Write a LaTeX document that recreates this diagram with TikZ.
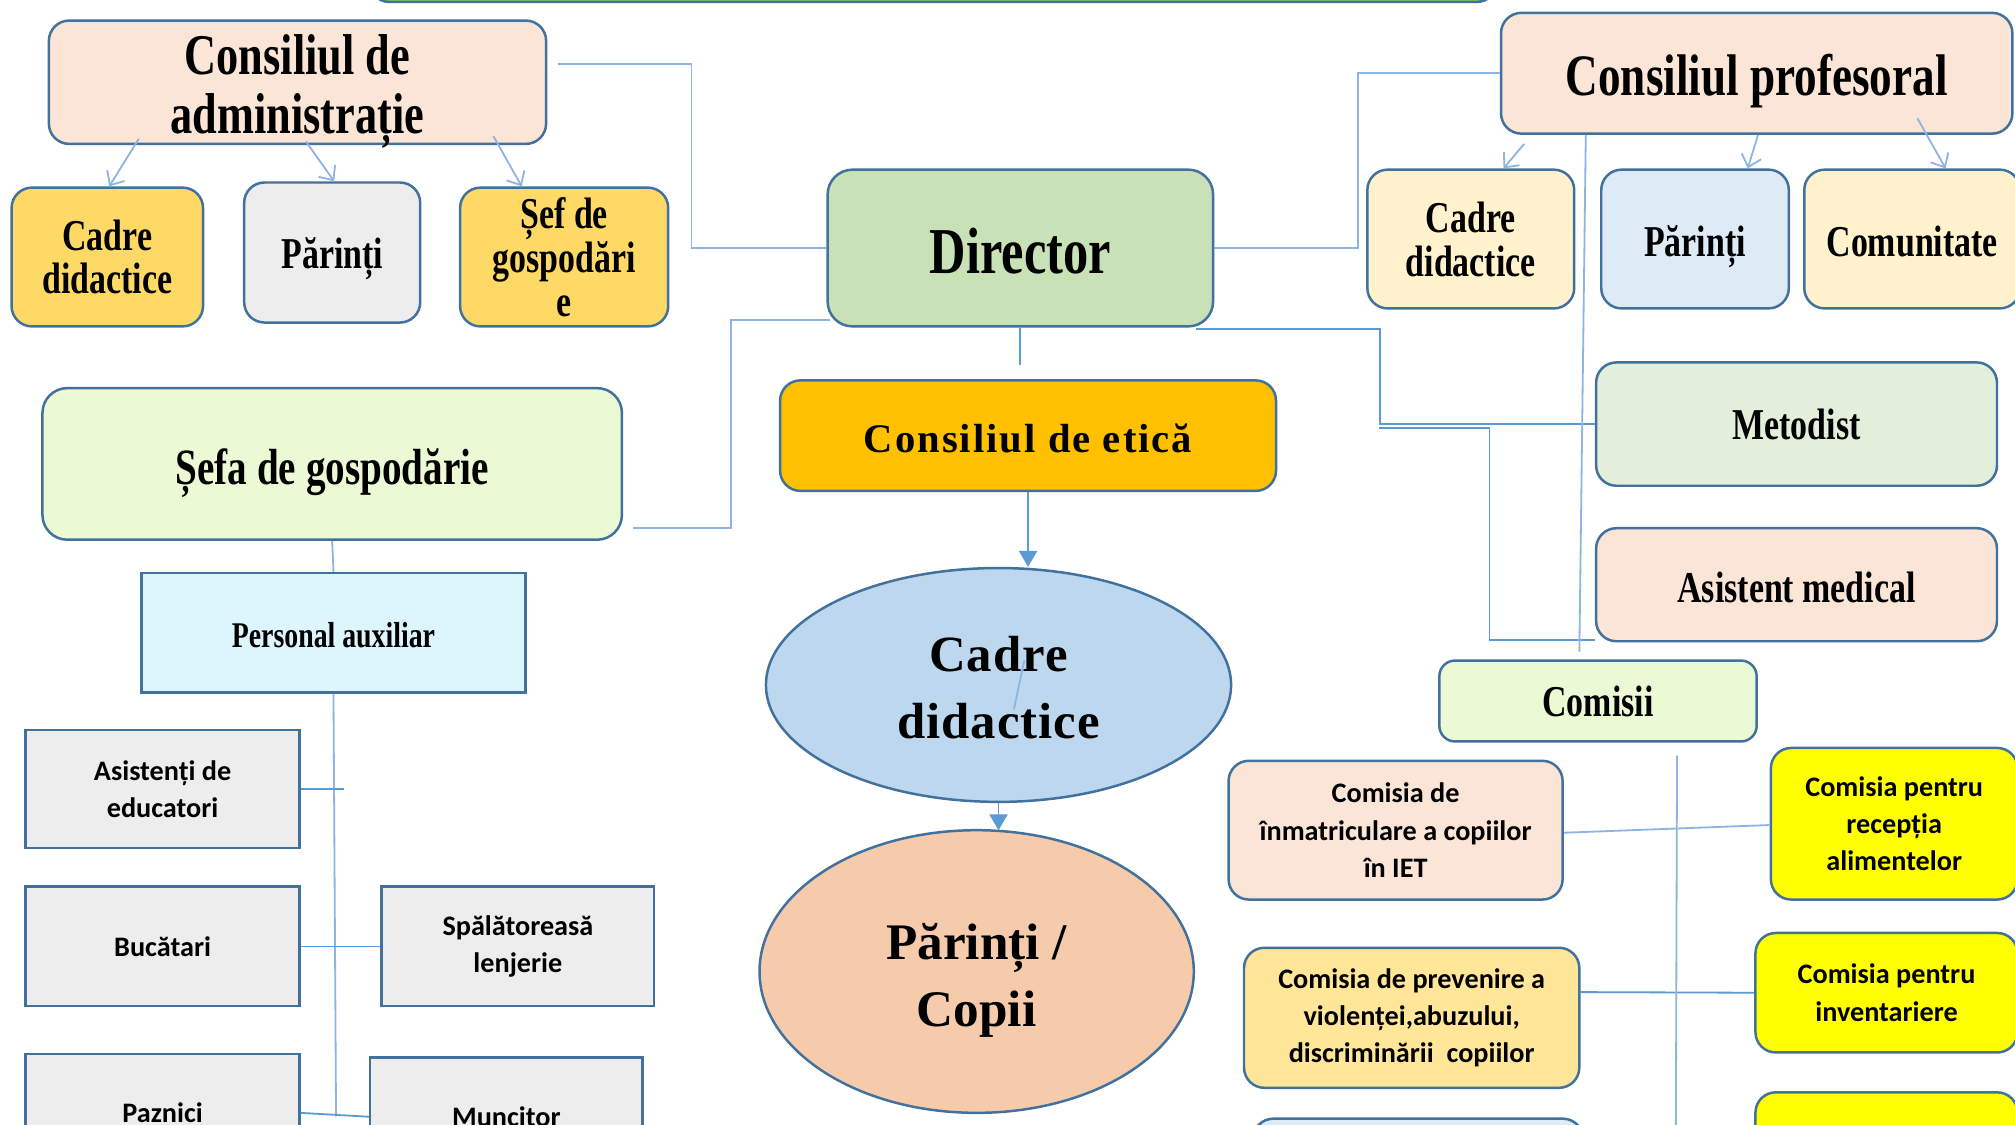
\documentclass[tikz,border=0pt]{standalone}
\usepackage{fontspec}
\usetikzlibrary{arrows.meta,shapes.geometric}
\newfontfamily\cserif[FakeStretch=0.77]{Liberation Serif}
\newfontfamily\nserif{Liberation Serif}
\newfontfamily\etfont[LetterSpace=5]{Liberation Serif}
\newfontfamily\elfont[LetterSpace=2]{Liberation Serif}
\newfontfamily\csans{Carlito}
\newcommand\fS[2]{\fontsize{#1}{#2}\selectfont}
\newcommand\lowr[2]{\raisebox{-#1}[\height][\depth]{#2}}
\newcommand\lowtwo[3]{\lowr{#1}{\begin{tabular}{@{}c@{}}#2\\#3\end{tabular}}}
\definecolor{bord}{HTML}{41719C}
\definecolor{lnk}{HTML}{8EB4E3}
\definecolor{lnkd}{HTML}{5B9BD5}
\definecolor{cPeach}{HTML}{FBE5D6}
\definecolor{cGold}{HTML}{FFD966}
\definecolor{cGray}{HTML}{EDEDED}
\definecolor{cDir}{HTML}{C8E1B6}
\definecolor{cCream}{HTML}{FFF2CC}
\definecolor{cPBlue}{HTML}{DEEBF7}
\definecolor{cMet}{HTML}{E2EFDA}
\definecolor{cEtica}{HTML}{FFC000}
\definecolor{cLime}{HTML}{EBFAD5}
\definecolor{cCyan}{HTML}{DDF5FD}
\definecolor{cEllB}{HTML}{BDD7EE}
\definecolor{cEllP}{HTML}{F6CBAB}
\definecolor{cYel}{HTML}{FFFF00}
\definecolor{cLYel}{HTML}{FFE699}
\definecolor{cGreen}{HTML}{92D050}
\tikzset{
  bxr/.style={draw=bord, line width=1.1pt, rounded corners=9pt, inner sep=0pt, align=center},
  bxs/.style={draw=bord, line width=1.1pt, inner sep=0pt, align=center},
  ell/.style={draw=bord, line width=1.1pt, ellipse, inner sep=0pt, align=center},
  conn/.style={draw=lnk, line width=0.8pt},
  connd/.style={draw=lnkd, line width=0.8pt},
  arrv/.style={conn, -{Straight Barb[length=5pt,width=9pt]}},
  arrt/.style={draw=lnkd, line width=0.8pt, -{Triangle[length=7pt,width=8pt,fill=lnkd]}},
  fA/.style={font=\cserif\bfseries\fS{25.5}{26}},
  fB/.style={font=\cserif\bfseries\fS{19.5}{19}},
  fD/.style={font=\cserif\bfseries\fS{29}{30}},
  fSf/.style={font=\cserif\bfseries\fS{22.5}{24}},
  fP/.style={font=\cserif\bfseries\fS{16}{18}},
  fS/.style={font=\csans\bfseries\fS{12.5}{16.5}},
}
\begin{document}
\begin{tikzpicture}[x=0.02cm,y=0.02cm]
\useasboundingbox (0,0) rectangle (1568,-875);
\clip (0,0) rectangle (1568,-875);
\fill[white] (0,0) rectangle (1568,-875);

% top bar (cut off)
\node[bxr, fill=cGreen, minimum width=17.56cm, minimum height=0.84cm] (topbar) at (726,19.5) {};

% left group
\node[bxr, fill=cPeach, minimum width=7.74cm, minimum height=1.92cm, fA] (admin) at (231.5,-64) {\lowtwo{4.3pt}{Consiliul de}{administrație}};
\node[bxr, fill=cGold, minimum width=2.98cm, minimum height=2.16cm, fB] (cadL) at (83.5,-200) {Cadre\\didactice};
\node[bxr, fill=cGray, minimum width=2.74cm, minimum height=2.18cm, fB] (parL) at (258.5,-196.5) {\lowr{2.8pt}{Părinți}};
\node[bxr, fill=cGold, minimum width=3.24cm, minimum height=2.16cm, font=\cserif\bfseries\fS{19.5}{19.5}] (sef) at (439,-200) {Șef de\\gospodări\\e};

% director
\node[bxr, fill=cDir, minimum width=6.0cm, minimum height=2.44cm, rounded corners=11pt, fD] (dir) at (794,-193) {\lowr{1.2pt}{Director}};

% right group
\node[bxr, fill=cPeach, minimum width=7.96cm, minimum height=1.88cm, font=\cserif\bfseries\fS{26}{28}] (prof) at (1367,-57) {\lowr{3.4pt}{Consiliul profesoral}};
\node[bxr, fill=cCream, minimum width=3.22cm, minimum height=2.16cm, font=\cserif\bfseries\fS{19.5}{19.5}] (cadR) at (1144.5,-186) {Cadre\\didactice};
\node[bxr, fill=cPBlue, minimum width=2.92cm, minimum height=2.16cm, fB] (parR) at (1319,-186) {\lowr{3.4pt}{Părinți}};
\node[bxr, fill=cCream, minimum width=3.36cm, minimum height=2.16cm, fB] (com) at (1488,-186) {\lowr{1.2pt}{Comunitate}};
\node[bxr, fill=cMet, minimum width=6.24cm, minimum height=1.92cm, fB] (met) at (1398,-330) {Metodist};
\node[bxr, fill=cPeach, minimum width=6.24cm, minimum height=1.76cm, fB] (asm) at (1398,-455) {\lowr{1.2pt}{Asistent medical}};

% center
\node[bxr, fill=cEtica, minimum width=7.72cm, minimum height=1.72cm, font=\etfont\bfseries\fS{18}{20}] (etica) at (800,-339) {\lowr{1.2pt}{Consiliul de etică}};
\node[ell, fill=cEllB, minimum width=7.24cm, minimum height=3.64cm, font=\elfont\bfseries\fS{22.5}{29.6}] (cadE) at (777,-533) {\lowtwo{3pt}{Cadre}{didactice}};
\node[ell, fill=cEllP, minimum width=6.76cm, minimum height=4.4cm, font=\nserif\bfseries\fS{22.7}{29.6}] (parE) at (760,-756) {\lowtwo{3.7pt}{Părinți /}{Copii}};

% sefa de gospodarie group
\node[bxr, fill=cLime, minimum width=9.02cm, minimum height=2.36cm, rounded corners=11pt, fSf] (sefa) at (258.5,-361) {\lowr{4pt}{Șefa de gospodărie}};
\node[bxs, fill=cCyan, minimum width=5.98cm, minimum height=1.86cm, fP] (pers) at (259.5,-492.5) {\lowr{1.2pt}{Personal auxiliar}};
\node[bxs, fill=cGray, minimum width=4.26cm, minimum height=1.84cm, fS] (asis) at (126.5,-614) {Asistenți de\\educatori};
\node[bxs, fill=cGray, minimum width=4.26cm, minimum height=1.86cm, fS] (buc) at (126.5,-736.5) {Bucătari};
\node[bxs, fill=cGray, minimum width=4.24cm, minimum height=1.86cm, fS] (spal) at (403,-736.5) {Spălătoreasă\\lenjerie};
\node[bxs, fill=cGray, minimum width=4.26cm, minimum height=1.84cm, fS] (paz) at (126.5,-866) {Paznici};
\node[bxs, fill=cGray, minimum width=4.24cm, minimum height=1.84cm, fS] (munc) at (394,-869) {Muncitor};

% comisii group
\node[bxr, fill=cLime, minimum width=4.94cm, minimum height=1.26cm, rounded corners=7pt, fB] (comisii) at (1243.5,-545.5) {Comisii};
\node[bxr, fill=cPeach, minimum width=5.2cm, minimum height=2.16cm, fS] (cinm) at (1086,-646) {Comisia de\\înmatriculare a copiilor\\în IET};
\node[bxr, fill=cYel, minimum width=3.84cm, minimum height=2.36cm, fS] (crec) at (1474,-641) {Comisia pentru\\recepția\\alimentelor};
\node[bxr, fill=cLYel, minimum width=5.22cm, minimum height=2.18cm, fS] (cprev) at (1098.5,-792) {Comisia de prevenire a\\violenței,abuzului,\\discriminării\ \ copiilor};
\node[bxr, fill=cYel, minimum width=4.08cm, minimum height=1.86cm, fS] (cinv) at (1468,-772.5) {Comisia pentru\\inventariere};
\node[bxr, fill=cYel, minimum width=4.08cm, minimum height=1.2cm] (cnext) at (1468,-880) {};
\node[bxr, fill=cPBlue, minimum width=5.14cm, minimum height=1.18cm] (cnext2) at (1103.5,-900) {};

% connectors: admin / director / profesoral
\draw[conn] ([shift={(8,14)}]admin.east) -| ([shift={(-105,0)}]dir.west) -- (dir.west);
\draw[conn] (dir.east) -- ++(112,0) |- (prof.west);
\draw[conn] ([shift={(3,-56)}]dir.west) -- ++(-77,0) |- ([shift={(8,-50)}]sefa.east);
\coordinate (dstub) at ([shift={(0,-29)}]dir.south);
\draw[connd] (dir.south) -- (dstub);
\draw[connd] ([shift={(-14,-1)}]dir.south east) -| ([shift={(-167,0)}]met.west) -- (met.west);
\coordinate (f2s) at ([shift={(-168,-3)}]met.west);
\draw[connd] (f2s) -| ([shift={(-82,2)}]asm.south west) -- ([shift={(0,2)}]asm.south west);
\draw[conn] ([shift={(-133,0)}]prof.south) -- ([shift={(-14.5,6)}]comisii.north);

% arrows to children
\draw[arrv] ([shift={(-123.5,-44)}]admin.center) -- ([shift={(1.5,0)}]cadL.north);
\draw[arrv] ([shift={(6.5,-46)}]admin.center) -- ([shift={(1.5,0)}]parL.north);
\draw[arrv] ([shift={(152.5,-42)}]admin.center) -- ([shift={(-33,0)}]sef.north);
\draw[arrv] ([shift={(-181,-55)}]prof.center) -- ([shift={(25.5,0)}]cadR.north);
\draw[arrv] ([shift={(1,-48)}]prof.center) -- ([shift={(41,0)}]parR.north);
\draw[arrv] ([shift={(125,-35)}]prof.center) -- ([shift={(26,0)}]com.north);

% center chain
\draw[arrt] (etica.south) -- (etica.south |- cadE.north);
\draw[conn] ([shift={(20,19)}]cadE.center) -- ([shift={(12,-19)}]cadE.center);
\draw[arrt] (cadE.south) -- ([shift={(0,-1)}]cadE.south |- parE.north);

% personal auxiliar tree
\draw[conn] (sefa.south) -- (pers.north);
\coordinate (pend) at ([shift={(2,-329)}]pers.south);
\draw[conn] (pers.south) -- (pend);
\draw[connd] (asis.east) -- ++(34,0);
\draw[connd] (buc.east) -- (spal.west);
\draw[connd] (paz.east) -- (munc.west);

% comisii links
\draw[conn] ([shift={(0,-2)}]cinm.east) -- ([shift={(0,-1)}]crec.west);
\draw[connd] ([shift={(0,20)}]cprev.east) -- (cinv.west);
\coordinate (rend) at ([shift={(60.5,-330)}]comisii.south);
\draw[conn] ([shift={(61.5,-10)}]comisii.south) -- (rend);
\end{tikzpicture}
\end{document}
